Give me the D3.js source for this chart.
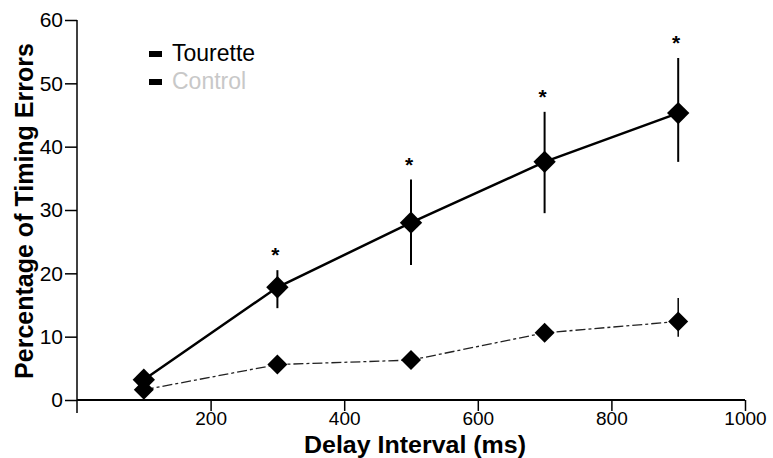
<!DOCTYPE html>
<html><head><meta charset="utf-8">
<script src="https://cdn.jsdelivr.net/npm/d3@7"></script>
<style>body{margin:0;background:#fff}svg{display:block}</style>
</head><body><svg id="c" width="773" height="458"></svg>
<script>
const delays = [100, 300, 500, 700, 900];
const touretteMean = [3.2, 17.8, 28.0, 37.6, 45.3];
const touretteLow  = [2.0, 14.5, 21.3, 29.5, 37.6];
const touretteHigh = [4.5, 20.5, 34.8, 45.5, 54.0];
const controlMean = [1.6, 5.6, 6.3, 10.6, 12.4];
const controlLow  = [0.8, 5.0, 5.6, 9.8, 10.0];
const controlHigh = [2.4, 6.2, 7.0, 11.4, 16.1];
const significant = [false, true, true, true, true];
const xTicks = [200, 400, 600, 800, 1000];
const yTicks = [0, 10, 20, 30, 40, 50, 60];
const seriesNames = ["Tourette", "Control"];

const svg = d3.select("#c");
const x = d3.scaleLinear().domain([0, 1000]).range([77, 745]);
const y = d3.scaleLinear().domain([0, 60]).range([400, 20]);
const font = "'Liberation Sans', Arial, sans-serif";

// y axis
const ya = svg.append("g").attr("transform", `translate(${x(0)},0)`)
  .call(d3.axisLeft(y).tickValues(yTicks).tickSize(12).tickPadding(2).tickSizeOuter(0));
ya.select(".domain").remove();
ya.append("line").attr("x1",0).attr("x2",0).attr("y1",y(60)).attr("y2",413).attr("stroke","#000").attr("stroke-width",1.5);
ya.selectAll(".tick line").attr("stroke-width",1.5);
ya.selectAll("text").attr("font-family",font).attr("font-size",21).attr("fill","#000");

// x axis
const xa = svg.append("g").attr("transform", `translate(0,${y(0)})`)
  .call(d3.axisBottom(x).tickValues(xTicks).tickFormat(d3.format("d")).tickSize(11).tickPadding(1).tickSizeOuter(0));
xa.select(".domain").remove();
xa.append("line").attr("x1",x(0)).attr("x2",x(1000)).attr("y1",0).attr("y2",0).attr("stroke","#000").attr("stroke-width",2);
xa.selectAll(".tick line").attr("stroke-width",1.5);
xa.selectAll("text").attr("font-family",font).attr("font-size",19).attr("fill","#000");

// titles
svg.append("text").attr("x",415).attr("y",453).attr("text-anchor","middle")
  .attr("font-family",font).attr("font-weight","bold").attr("font-size",23)
  .attr("textLength",222).attr("lengthAdjust","spacingAndGlyphs").text("Delay Interval (ms)");
svg.append("text").attr("transform","translate(33,211) rotate(-90)").attr("text-anchor","middle")
  .attr("font-family",font).attr("font-weight","bold").attr("font-size",25).text("Percentage of Timing Errors");

const line = d3.line().x((d,i)=>x(delays[i])).y(d=>y(d));

// control series
svg.append("path").datum(controlMean).attr("d", line).attr("fill","none")
  .attr("stroke","#222").attr("stroke-width",1.3).attr("stroke-dasharray","10,3,3,3");
svg.selectAll(".cerr").data(delays).enter().append("line")
  .attr("x1",d=>x(d)).attr("x2",d=>x(d))
  .attr("y1",(d,i)=>y(controlLow[i])).attr("y2",(d,i)=>y(controlHigh[i]))
  .attr("stroke","#000").attr("stroke-width",1.5);
svg.selectAll(".cpt").data(controlMean).enter().append("path")
  .attr("d", d3.symbol().type(d3.symbolSquare).size(200))
  .attr("transform",(d,i)=>`translate(${x(delays[i])},${y(d)}) rotate(45)`)
  .attr("fill","#000");

// tourette series
svg.append("path").datum(touretteMean).attr("d", line).attr("fill","none")
  .attr("stroke","#000").attr("stroke-width",2.5);
svg.selectAll(".terr").data(delays).enter().append("line")
  .attr("x1",d=>x(d)).attr("x2",d=>x(d))
  .attr("y1",(d,i)=>y(touretteLow[i])).attr("y2",(d,i)=>y(touretteHigh[i]))
  .attr("stroke","#000").attr("stroke-width",2);
svg.selectAll(".tpt").data(touretteMean).enter().append("path")
  .attr("d", d3.symbol().type(d3.symbolSquare).size(250))
  .attr("transform",(d,i)=>`translate(${x(delays[i])},${y(d)}) rotate(45)`)
  .attr("fill","#000");

// significance asterisks
svg.selectAll(".star").data(delays.filter((d,i)=>significant[i])).enter().append("text")
  .attr("x",d=>x(d)-2)
  .attr("y",(d)=>y(touretteHigh[delays.indexOf(d)])-8)
  .attr("text-anchor","middle").attr("font-family",font).attr("font-weight","bold").attr("font-size",21)
  .text("*");

// legend
const leg = svg.append("g");
seriesNames.forEach((n,i)=>{
  leg.append("rect").attr("x",149).attr("y",51+i*28).attr("width",13).attr("height",6).attr("fill","#000");
  leg.append("text").attr("x",172).attr("y",61+i*28).attr("font-family",font).attr("font-size",23)
    .attr("fill", i===0 ? "#000" : "#c8c8c8").text(n);
});
</script></body></html>
